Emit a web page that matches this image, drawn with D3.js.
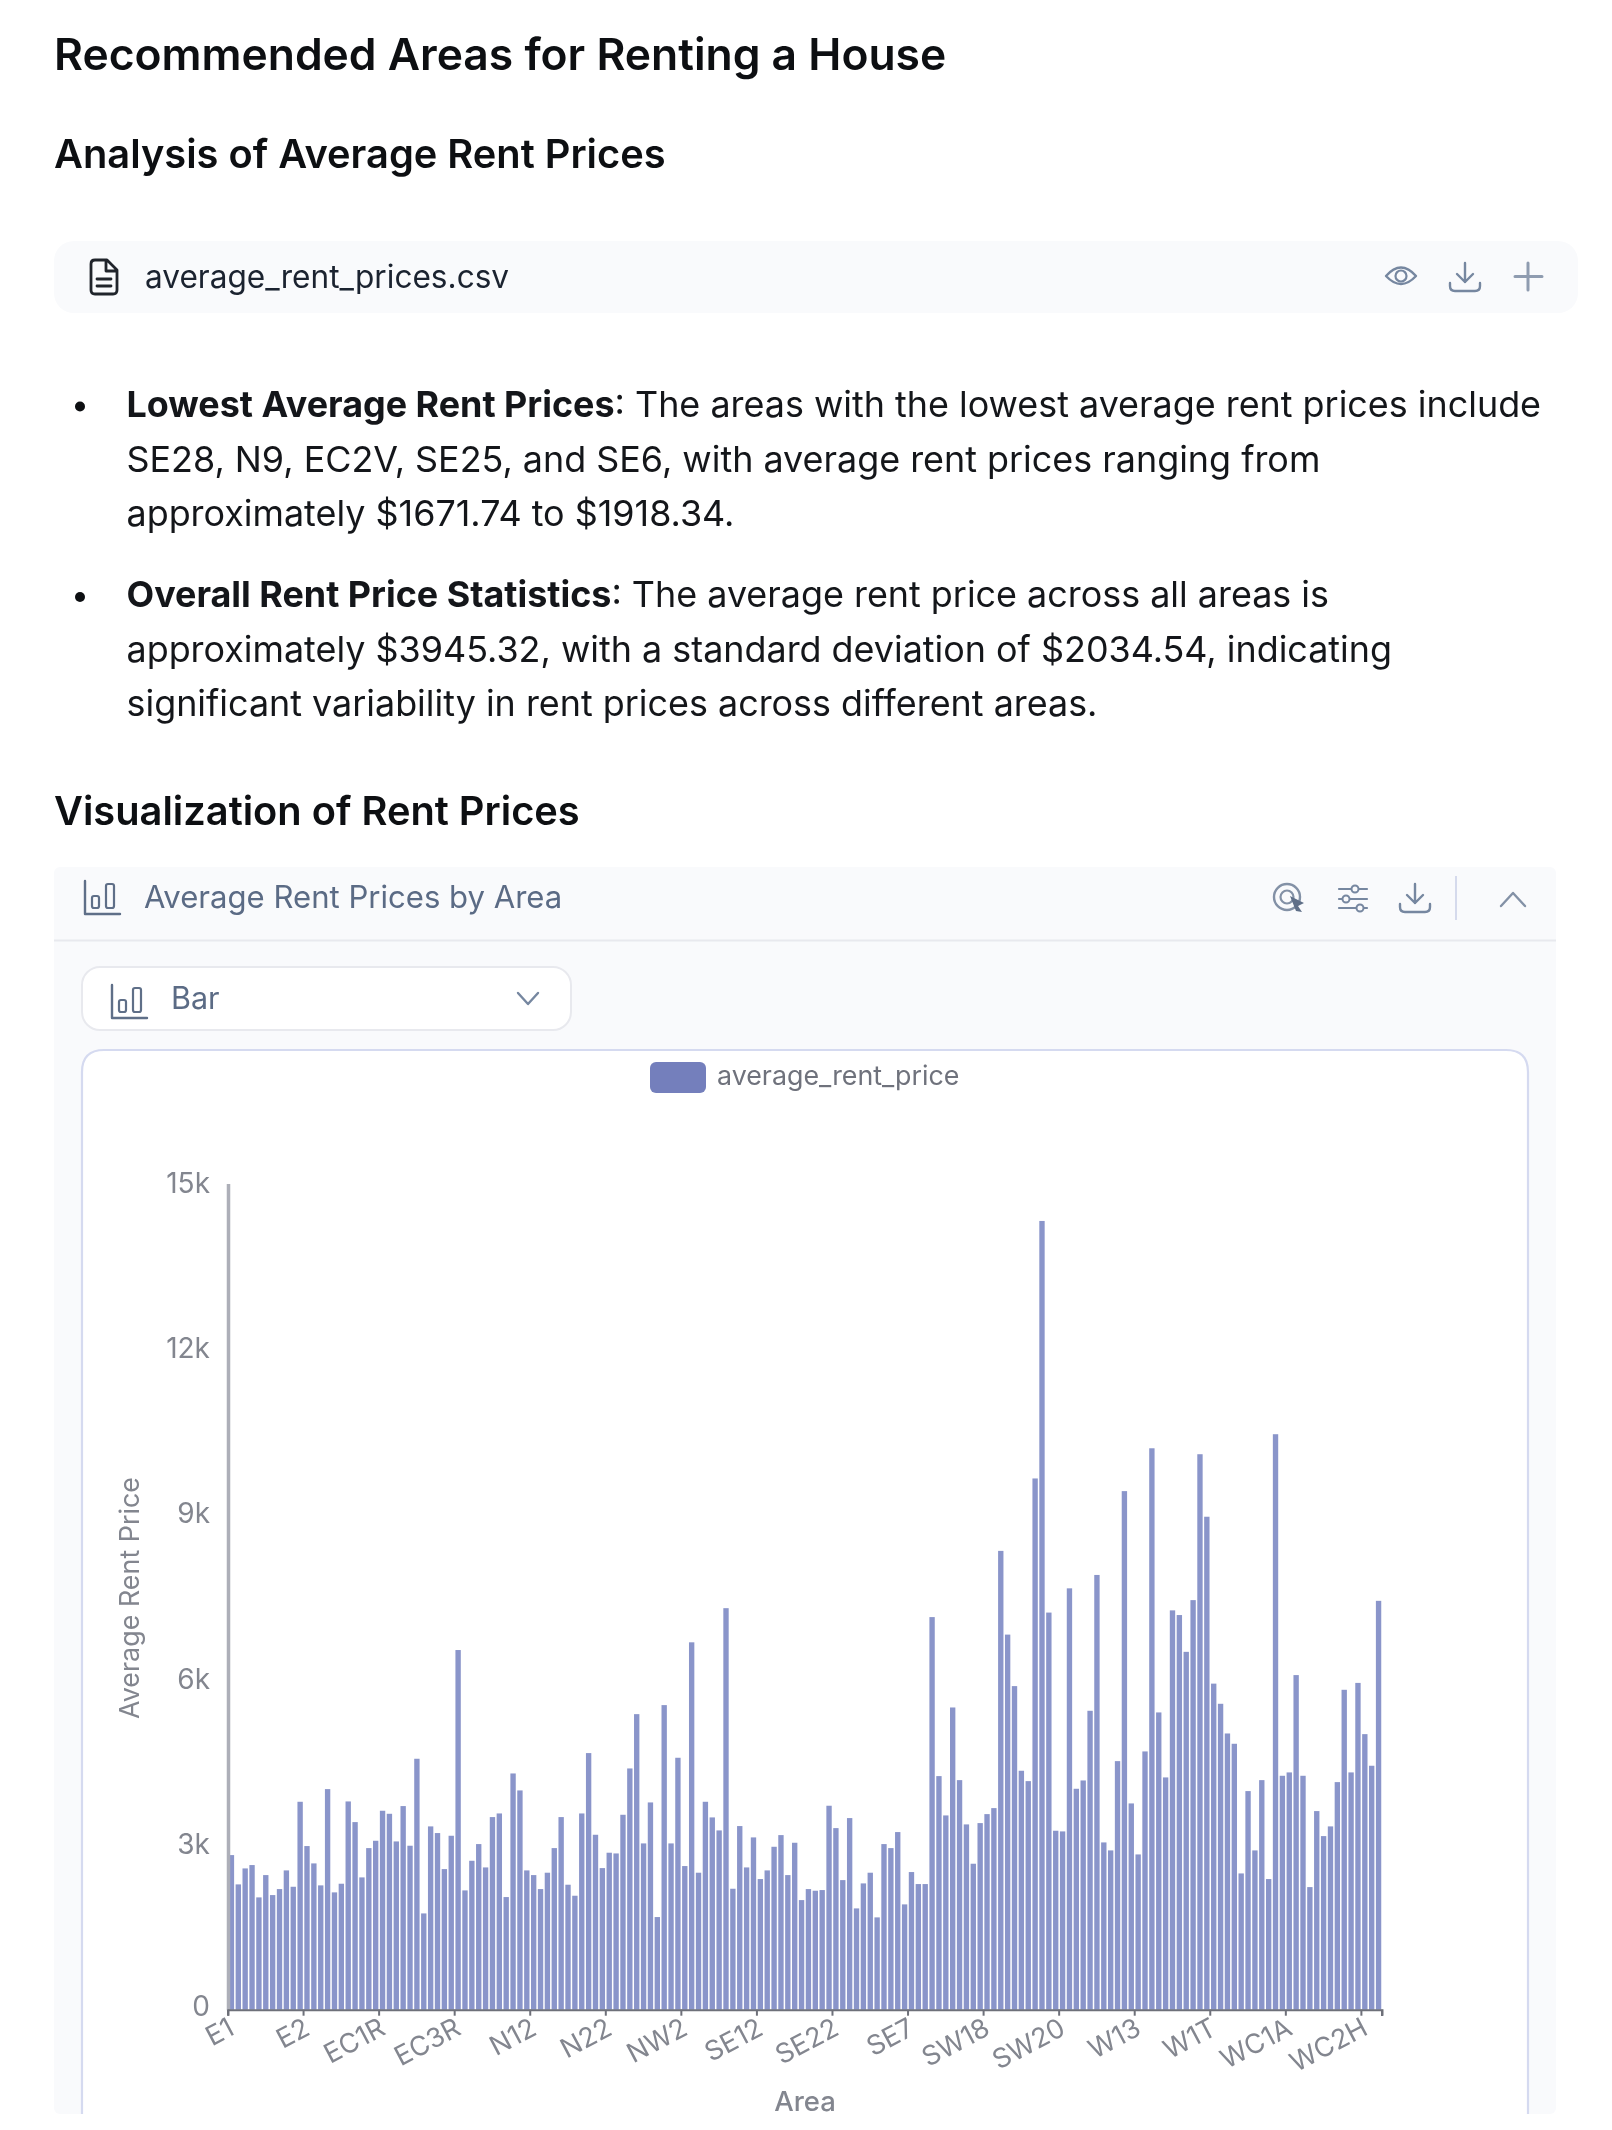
<!DOCTYPE html>
<html><head><meta charset="utf-8">
<script src="https://cdn.jsdelivr.net/npm/d3@7/dist/d3.min.js"></script>
<style>
html,body{margin:0;padding:0;background:#fff;width:1612px;height:2130px;overflow:hidden}
svg{display:block;font-family:Inter,"Noto Sans",sans-serif;filter:blur(.6px)}
</style></head><body>
<svg id="c" width="1612" height="2130" viewBox="0 0 1612 2130"></svg>
<script>
const areas = ["E1","E10","E11","E12","E13","E14","E15","E16","E17","E18","E1W","E2","E3","E4","E5","E6","E7","E8","E9","EC1A","EC1M","EC1N","EC1R","EC1V","EC1Y","EC2A","EC2M","EC2N","EC2R","EC2V","EC2Y","EC3A","EC3N","EC3R","EC3V","EC4A","EC4M","EC4N","EC4R","EC4V","EC4Y","N1","N10","N11","N12","N13","N14","N15","N16","N17","N18","N19","N1C","N2","N20","N22","N3","N4","N5","N6","N7","N8","N9","NW1","NW10","NW11","NW2","NW3","NW4","NW5","NW6","NW7","NW8","NW9","SE1","SE10","SE11","SE12","SE13","SE14","SE15","SE16","SE17","SE18","SE19","SE2","SE20","SE21","SE22","SE23","SE24","SE25","SE26","SE27","SE28","SE3","SE4","SE5","SE6","SE7","SE8","SE9","SW10","SW11","SW12","SW13","SW14","SW15","SW16","SW17","SW18","SW19","SW1A","SW1E","SW1H","SW1P","SW1V","SW1W","SW1X","SW1Y","SW2","SW20","SW3","SW4","SW5","SW6","SW7","SW8","SW9","W10","W11","W12","W13","W14","W1B","W1C","W1D","W1F","W1G","W1H","W1J","W1K","W1S","W1T","W1U","W1W","W2","W3","W4","W5","W6","W7","W8","W9","WC1A","WC1B","WC1E","WC1H","WC1N","WC1R","WC1V","WC1X","WC2A","WC2B","WC2E","WC2H","WC2N","WC2R"];
const rents = [2807,2275,2565,2626,2039,2444,2081,2190,2529,2232,3775,2971,2656,2257,4005,2130,2287,3781,3406,2402,2934,3067,3612,3557,3055,3697,2977,4556,1748,3328,3207,2553,3158,6530,2166,2704,3007,2583,3497,3563,2045,4289,3981,2529,2444,2190,2487,2934,3497,2269,2069,3563,4659,3176,2571,2850,2837,3539,4380,5366,3019,3763,1682,5530,3019,4574,2608,6670,2487,3775,3491,3255,7290,2196,3334,2583,3128,2372,2529,2958,3170,2444,3031,1990,2190,2160,2172,3703,3297,2353,3479,1839,2293,2487,1676,3007,2934,3225,1912,2499,2281,2281,7128,4241,3527,5487,4168,3364,2650,3388,3551,3660,8330,6810,5875,4338,4150,9645,14320,7210,3249,3237,7650,4011,4162,5427,7893,3037,2892,4513,9415,3745,2819,4689,10193,5397,4217,7250,7165,6497,7436,10085,8950,5920,5554,5015,4828,2474,3969,2892,4168,2372,10448,4247,4308,6075,4247,2226,3606,3152,3328,4132,5808,4308,5933,5003,4429,7423];
const yTicks = [0,3000,6000,9000,12000,15000];
const xTickAreas = ["E1","E2","EC1R","EC3R","N12","N22","NW2","SE12","SE22","SE7","SW18","SW20","W13","W1T","WC1A","WC2H"];
const bodyLines = [
 {y:417,x:126.5,parts:[["Lowest Average Rent Prices",1],[": The areas with the lowest average rent prices include",0]]},
 {y:471.5,x:126.5,parts:[["SE28, N9, EC2V, SE25, and SE6, with average rent prices ranging from",0]]},
 {y:526,x:126.5,parts:[["approximately $1671.74 to $1918.34.",0]]},
 {y:607,x:126.5,parts:[["Overall Rent Price Statistics",1],[": The average rent price across all areas is",0]]},
 {y:661.5,x:126.5,parts:[["approximately $3945.32, with a standard deviation of $2034.54, indicating",0]]},
 {y:716,x:126.5,parts:[["significant variability in rent prices across different areas.",0]]}
];

const svg = d3.select("#c");
function txt(x,y,s,o={}){return svg.append("text").attr("x",x).attr("y",y).text(s)
  .attr("font-size",o.size||33).attr("font-weight",o.weight||400).attr("fill",o.fill||"#14161a").attr("text-anchor",o.anchor||"start");}
function stroke(d,o={}){return svg.append("path").attr("d",d).attr("fill","none").attr("stroke",o.c||"#5f6f88")
  .attr("stroke-width",o.w||2.4).attr("stroke-linecap","round").attr("stroke-linejoin","round");}
function box(x,y,w,h,r,f,s,sw){return svg.append("rect").attr("x",x).attr("y",y).attr("width",w).attr("height",h).attr("rx",r)
  .attr("fill",f).attr("stroke",s||"none").attr("stroke-width",sw||0);}
function barIcon(x,y,c){stroke(`M${x} ${y}V${y+33}H${x+35}`,{c});
  svg.append("rect").attr("x",x+7).attr("y",y+15).attr("width",7).attr("height",12).attr("rx",2).attr("fill","none").attr("stroke",c).attr("stroke-width",2.2);
  svg.append("rect").attr("x",x+21).attr("y",y+3).attr("width",8).attr("height",24).attr("rx",2).attr("fill","none").attr("stroke",c).attr("stroke-width",2.2);}
function dlIcon(cx,cy){stroke(`M${cx} ${cy-14}V${cy+5}M${cx-8} ${cy-3}L${cx} ${cy+5}L${cx+8} ${cy-3}M${cx-15} ${cy+6}V${cy+9}Q${cx-15} ${cy+14} ${cx-10} ${cy+14}H${cx+10}Q${cx+15} ${cy+14} ${cx+15} ${cy+9}V${cy+6}`,{c:"#7687a0"});}

txt(54,69.5,"Recommended Areas for Renting a House",{size:44.4,weight:600,fill:"#0d0f12"});
txt(54,167.5,"Analysis of Average Rent Prices",{size:39.8,weight:600,fill:"#0d0f12"});
txt(54,825,"Visualization of Rent Prices",{size:39.8,weight:600,fill:"#0d0f12"});

// file row
box(54,241,1524,72,20,"#f9fafc");
stroke("M91 264Q91 260 95 260H107L117 270V290Q117 294 113 294H95Q91 294 91 290ZM106 260V271H117M97 279H111M97 286H111",{c:"#20242b",w:2.8});
txt(145,288,"average_rent_prices.csv",{size:31.6,fill:"#1b2330"});
stroke("M1386 276Q1401 259 1416 276Q1401 292 1386 276Z",{c:"#7687a0"});
svg.append("circle").attr("cx",1401).attr("cy",276).attr("r",5.5).attr("fill","none").attr("stroke","#7687a0").attr("stroke-width",2.2);
dlIcon(1465,277);
stroke("M1528 263V290M1515 276.5H1542",{c:"#8f9cb0",w:3});

// bullets
[406.5,597].forEach(cy=>svg.append("circle").attr("cx",80).attr("cy",cy).attr("r",5).attr("fill","#0d0f12"));
bodyLines.forEach(l=>{
  const t=svg.append("text").attr("x",l.x).attr("y",l.y).attr("font-size",35.9).attr("fill","#14161a");
  l.parts.forEach(p=>t.append("tspan").text(p[0]).attr("font-weight",p[1]?700:400));
});

// chart card
box(54,867,1502,1247,6,"#f9fafc");
svg.append("line").attr("x1",54).attr("x2",1556).attr("y1",940.5).attr("y2",940.5).attr("stroke","#e8e9ee").attr("stroke-width",2);
barIcon(85,881,"#5f6f88");
txt(144,908,"Average Rent Prices by Area",{size:31.1,fill:"#5b6b85"});
svg.append("circle").attr("cx",1287).attr("cy",897).attr("r",13).attr("fill","none").attr("stroke","#8391a6").attr("stroke-width",2.4);
svg.append("circle").attr("cx",1287).attr("cy",897).attr("r",6.5).attr("fill","none").attr("stroke","#8391a6").attr("stroke-width",2.2);
svg.append("path").attr("d","M1290 896L1304 903L1298 906L1302 912L1296 911Z").attr("fill","#5f6f88");
stroke("M1339 889H1367M1339 899H1367M1339 908H1367",{w:2.2,c:"#7687a0"});
[[1355,889],[1346,899],[1360,908]].forEach(p=>svg.append("circle").attr("cx",p[0]).attr("cy",p[1]).attr("r",3.5).attr("fill","#f9fafc").attr("stroke","#7687a0").attr("stroke-width",2));
dlIcon(1415,898);
svg.append("line").attr("x1",1456).attr("x2",1456).attr("y1",876).attr("y2",920).attr("stroke","#d5daec").attr("stroke-width",2);
stroke("M1501 906L1513 893L1525 906",{c:"#8391a6"});

// dropdown
box(82,967,489,63,18,"#fff","#e8e9ee",2);
barIcon(112,985,"#5f6f88");
txt(171,1009,"Bar",{size:30.5,fill:"#5b6b85"});
stroke("M518 993L528 1004L538 993",{c:"#7687a0"});

// plot card
svg.append("path").attr("d","M82 2114V1072Q82 1050 104 1050H1506Q1528 1050 1528 1072V2114").attr("fill","#fff").attr("stroke","#d5daf0").attr("stroke-width",2.2);
box(650,1062,56,31,6,"#747fbc");
txt(717,1085,"average_rent_price",{size:26.8,fill:"#6f727c"});

// axes and bars
const x = d3.scaleBand().domain(areas).range([228,1382]).paddingInner(.22).paddingOuter(.11);
const y = d3.scaleLinear().domain([0,15000]).range([2009.7,1183.5]);
const step = x.step();
svg.selectAll("rect.bar").data(areas).join("rect").attr("class","bar")
  .attr("x",d=>x(d)).attr("width",x.bandwidth())
  .attr("y",(d,i)=>y(rents[i])).attr("height",(d,i)=>y(0)-y(rents[i]))
  .attr("fill","#8a95ca");

const yAxis = svg.append("g").attr("transform","translate(228,0)")
  .call(d3.axisLeft(y).tickValues(yTicks).tickSize(0).tickPadding(18).tickFormat(v=>v===0?"0":(v/1000)+"k"));
yAxis.select(".domain").attr("stroke","#adafb8").attr("stroke-width",3.5);
yAxis.selectAll("text").attr("font-size",28).attr("font-family","Inter").attr("fill","#83868f");
yAxis.selectAll(".tick").filter(d=>d===0).select("text").attr("dy","0.2em");

const xAxis = svg.append("g").attr("transform","translate(0,2009.7)")
  .call(d3.axisBottom(x).tickValues(xTickAreas).tickSize(6).tickPadding(4));
xAxis.select(".domain").attr("stroke","#6e7079").attr("stroke-width",2);
xAxis.selectAll(".tick").attr("transform",d=>`translate(${x(d)-(step-x.bandwidth())/2},0)`);
xAxis.selectAll(".tick line").attr("stroke","#6e7079").attr("stroke-width",2);
xAxis.selectAll(".tick text").attr("font-size",27).attr("font-family","Inter").attr("fill","#83868f")
  .attr("text-anchor","end").attr("dy",0).attr("y",0).attr("x",0)
  .attr("transform","translate(8,24) rotate(-28)");
svg.append("line").attr("x1",1382).attr("x2",1382).attr("y1",2009.7).attr("y2",2016).attr("stroke","#6e7079").attr("stroke-width",2);

svg.append("text").attr("transform","translate(139,1598) rotate(-90)").attr("text-anchor","middle")
  .attr("font-size",26.9).attr("fill","#83868f").text("Average Rent Price");
svg.append("text").attr("x",805).attr("y",2111).attr("text-anchor","middle").attr("font-size",27.5)
  .attr("font-weight",500).attr("fill","#83868f").text("Area");
</script>
</body></html>
